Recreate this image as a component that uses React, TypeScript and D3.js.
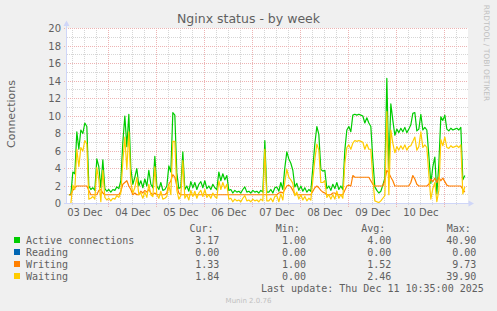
import React from 'react';
import * as d3 from 'd3';

const W = 497;
const H = 311;

const title = 'Nginx status - by week';
const yAxisLabel = 'Connections';
const watermark = 'RRDTOOL / TOBI OETIKER';
const versionText = 'Munin 2.0.76';
const lastUpdate = 'Last update: Thu Dec 11 10:35:00 2025';

// time window of the graph (400 px, 30 min each)
const periodStart = Date.UTC(2025, 11, 3, 3, 20);
const periodEnd = Date.UTC(2025, 11, 11, 11, 20);
// hourly samples start here
const firstSample = Date.UTC(2025, 11, 3, 4, 0);
const sampleStepMs = 3600 * 1000;

const yTickValues = [0, 2, 4, 6, 8, 10, 12, 14, 16, 18, 20];
const yMinorValues = [1, 3, 5, 7, 9, 11, 13, 15, 17, 19];

const seriesNames = ['Active connections', 'Reading', 'Writing', 'Waiting'];
const seriesColors = ['#00CC00', '#0066B3', '#FF8000', '#FFCC00'];
const curValues = ['3.17', '0.00', '1.33', '1.84'];
const minValues = ['1.00', '0.00', '1.00', '0.00'];
const avgValues = ['4.00', '0.00', '1.52', '2.46'];
const maxValues = ['40.90', '0.00', '9.73', '39.90'];

const activeValues = [
  1.0, 1.0, 3.6, 3.4, 8.2, 6.2, 8.4, 8.0, 9.2, 8.8,
  2.0, 1.6, 1.8, 1.5, 5.1, 4.2, 1.8, 5.0, 1.7, 1.4,
  1.6, 1.3, 1.6, 1.5, 1.9, 1.7, 2.6, 7.0, 10.0, 6.5,
  10.2, 4.0, 2.2, 3.0, 4.0, 2.0, 2.6, 1.8, 2.8, 2.0,
  3.8, 2.2, 1.8, 5.4, 2.0, 1.6, 2.4, 1.5, 1.6, 2.0,
  4.3, 3.6, 10.4, 10.1, 3.5, 1.7, 1.9, 5.9, 1.6, 2.0,
  1.4, 2.5, 1.8, 2.4, 1.6, 2.2, 2.5, 1.8, 2.6, 1.7,
  2.0, 1.6, 2.2, 1.8, 1.6, 3.6, 2.6, 3.4, 2.7, 3.2,
  1.5, 1.6, 1.2, 1.5, 1.3, 1.4, 1.2, 1.6, 1.9, 1.3,
  1.4, 1.2, 1.5, 1.3, 1.4, 1.2, 1.5, 1.3, 7.2, 1.3,
  1.3, 1.6, 1.2, 1.8, 1.9, 1.4, 2.4, 1.6, 4.1, 5.9,
  5.1, 4.6, 3.8, 1.9, 2.3, 1.5, 2.0, 1.4, 1.8, 1.3,
  1.6, 1.4, 4.1, 6.8, 8.8, 7.9, 3.9, 3.7, 3.8, 1.7,
  2.0, 1.5, 2.2, 1.7, 2.4, 1.6, 2.0, 1.6, 6.1, 8.4,
  8.8, 8.2, 10.1, 10.2, 10.1, 10.2, 10.1, 10.0, 9.2, 9.8,
  9.2, 8.8, 5.0, 1.9, 1.5, 1.2, 1.4, 2.1, 2.9, 14.3,
  4.0, 11.4, 9.5, 7.8, 8.5, 8.1, 8.6, 8.2, 8.7, 8.1,
  8.5, 9.0, 10.3, 10.4, 8.3, 8.5, 10.2, 8.4, 8.7, 8.4,
  5.5, 2.3, 4.2, 5.3, 1.1, 4.5, 9.9, 9.5, 10.1, 8.5,
  8.3, 8.6, 8.4, 8.5, 8.6, 8.4, 8.7, 2.7, 3.2,
];

// Reading stays at 0.00 during the whole week (min = avg = max = 0)
const readingValues: number[] = new Array(activeValues.length).fill(0);

const writingValues = [
  1.0, 1.0, 1.5, 1.8, 2.0, 2.0, 2.0, 2.0, 2.0, 2.0,
  1.5, 1.0, 1.0, 1.0, 1.0, 1.5, 1.6, 1.2, 1.0, 1.0,
  1.0, 1.0, 1.0, 1.0, 1.0, 1.0, 1.4, 2.2, 2.4, 2.6,
  2.0, 1.6, 1.0, 1.2, 1.0, 1.0, 1.4, 1.2, 1.5, 1.3,
  1.6, 1.2, 1.0, 1.2, 1.0, 1.0, 1.0, 1.0, 1.0, 1.2,
  2.2, 2.6, 3.3, 3.0, 2.0, 1.2, 1.0, 1.0, 1.0, 1.0,
  1.0, 1.0, 1.0, 1.0, 1.0, 1.0, 1.0, 1.0, 1.0, 1.0,
  1.0, 1.0, 1.0, 1.0, 1.0, 1.0, 1.0, 1.0, 1.0, 1.0,
  1.0, 1.0, 1.0, 1.0, 1.0, 1.0, 1.0, 1.0, 1.0, 1.0,
  1.0, 1.0, 1.0, 1.0, 1.0, 1.0, 1.0, 1.0, 1.0, 1.0,
  1.0, 1.0, 1.0, 1.0, 1.0, 1.2, 1.3, 1.2, 1.6, 2.0,
  2.1, 1.9, 1.5, 1.0, 1.0, 1.0, 1.0, 1.0, 1.0, 1.0,
  1.0, 1.0, 1.4, 1.8, 2.0, 1.8, 1.5, 1.3, 1.2, 1.0,
  1.0, 1.0, 1.2, 1.2, 1.0, 1.0, 1.0, 1.0, 1.5, 2.0,
  2.1, 2.0, 3.2, 3.0, 3.0, 3.0, 3.0, 3.0, 3.0, 3.0,
  3.0, 2.6, 2.2, 2.0, 2.0, 2.0, 2.0, 2.0, 2.6, 3.8,
  3.5, 3.0, 2.6, 2.0, 2.0, 2.0, 2.0, 2.0, 2.0, 2.0,
  2.0, 2.4, 3.2, 2.8, 2.2, 2.0, 2.0, 2.0, 2.0, 2.0,
  2.2, 2.8, 2.5, 2.9, 2.4, 3.0, 2.6, 2.9, 2.5, 2.1,
  2.0, 2.0, 2.0, 2.0, 2.0, 2.0, 2.0, 1.6, 1.3,
];

const waitingValues = [
  0.0, 0.0, 2.1, 1.6, 6.2, 4.2, 6.4, 6.0, 7.2, 6.8,
  0.5, 0.6, 0.8, 0.5, 4.1, 2.7, 0.2, 3.8, 0.7, 0.4,
  0.6, 0.3, 0.6, 0.5, 0.9, 0.7, 1.2, 4.8, 7.6, 3.9,
  8.2, 2.4, 1.2, 1.8, 3.0, 1.0, 1.2, 0.6, 1.3, 0.7,
  2.2, 1.0, 0.8, 4.2, 1.0, 0.6, 1.4, 0.5, 0.6, 0.8,
  2.1, 1.0, 7.1, 7.1, 1.5, 0.5, 0.9, 4.9, 0.6, 1.0,
  0.4, 1.5, 0.8, 1.4, 0.6, 1.2, 1.5, 0.8, 1.6, 0.7,
  1.0, 0.6, 1.2, 0.8, 0.6, 2.6, 1.6, 2.4, 1.7, 2.2,
  0.5, 0.6, 0.2, 0.5, 0.3, 0.4, 0.2, 0.6, 0.9, 0.3,
  0.4, 0.2, 0.5, 0.3, 0.4, 0.2, 0.5, 0.3, 6.2, 0.3,
  0.3, 0.6, 0.2, 0.8, 0.9, 0.2, 1.1, 0.4, 2.5, 3.9,
  3.0, 2.7, 2.3, 0.9, 1.3, 0.5, 1.0, 0.4, 0.8, 0.3,
  0.6, 0.4, 2.7, 5.0, 6.8, 6.1, 2.4, 2.4, 2.6, 0.7,
  1.0, 0.5, 1.0, 0.5, 1.4, 0.6, 1.0, 0.6, 4.6, 6.4,
  6.7, 6.2, 6.9, 7.2, 7.1, 7.2, 7.1, 7.0, 6.2, 6.8,
  6.2, 6.2, 2.8, 0.3, 0.2, 0.1, 0.3, 0.6, 0.9, 10.5,
  1.0, 8.4, 6.9, 5.8, 6.5, 6.1, 6.6, 6.2, 6.7, 6.1,
  6.5, 6.6, 7.1, 7.6, 6.1, 6.5, 8.2, 6.4, 6.7, 6.4,
  3.3, 0.5, 1.7, 2.4, 0.2, 1.5, 7.3, 6.6, 7.6, 6.4,
  6.3, 6.6, 6.4, 6.5, 6.6, 6.4, 6.7, 1.1, 1.9,
];

const seriesValues = [activeValues, readingValues, writingValues, waitingValues];

const FONT = 'DejaVu Sans, sans-serif';
const MONO = 'DejaVu Sans Mono, monospace';
const TEXT = '#606060';
const AXIS = '#CFD6F8';
const MINOR_GRID = '#D6D6D6';
const MAJOR_GRID = '#EDB3B3';

export default function App() {
  const x = d3
    .scaleUtc()
    .domain([new Date(periodStart), new Date(periodEnd)])
    .range([67.5, 467.5]);
  const y = d3.scaleLinear().domain([0, 20]).range([203.5, 28.5]);
  const crisp = (v: number) => Math.floor(v) + 0.5;

  const times = activeValues.map((_, i) => new Date(firstSample + i * sampleStepMs));
  const line = d3
    .line<number>()
    .x((_, i) => x(times[i]))
    .y((d) => y(d));

  const start = new Date(periodStart);
  const end = new Date(periodEnd);
  const majorDays = d3.utcDay.range(d3.utcDay.ceil(start), end);
  const minorHours = (d3.utcHour.every(6) as d3.TimeInterval)
    .range(start, end)
    .filter((t) => t.getUTCHours() !== 0);
  const labelDays = d3.utcDay
    .range(d3.utcDay.floor(start), end)
    .map((d) => new Date(d.getTime() + 12 * 3600 * 1000))
    .filter((d) => d >= start && d <= end);
  const fmt = d3.utcFormat('%d %b');

  const legendRowY = [244, 256, 268, 280];

  return (
    <svg
      width={W}
      height={H}
      style={{ position: 'absolute', left: 0, top: 0, display: 'block' }}
    >
      <rect x={0} y={0} width={W} height={H} fill="#F0F0F0" />
      <rect x={67} y={28} width={401} height={176} fill="#FFFFFF" />

      {/* minor grid */}
      <g stroke={MINOR_GRID} strokeWidth={1} strokeDasharray="1,1" shapeRendering="crispEdges">
        {yMinorValues.map((v) => (
          <line key={'ym' + v} x1={67} x2={468} y1={crisp(y(v))} y2={crisp(y(v))} />
        ))}
        {minorHours.map((t) => (
          <line key={'xm' + t.getTime()} x1={crisp(x(t))} x2={crisp(x(t))} y1={28} y2={206} />
        ))}
      </g>
      {/* major grid */}
      <g stroke={MAJOR_GRID} strokeWidth={1} strokeDasharray="1,1" shapeRendering="crispEdges">
        {yTickValues
          .filter((v) => v > 0)
          .map((v) => (
            <line key={'yM' + v} x1={64} x2={468} y1={crisp(y(v))} y2={crisp(y(v))} />
          ))}
        {majorDays.map((t) => (
          <line key={'xM' + t.getTime()} x1={crisp(x(t))} x2={crisp(x(t))} y1={28} y2={207} />
        ))}
      </g>

      {/* data */}
      <defs>
        <clipPath id="plotClip">
          <rect x={67} y={28} width={401} height={176} />
        </clipPath>
      </defs>
      <g clipPath="url(#plotClip)" fill="none" strokeWidth={1.2} strokeLinejoin="round">
        {seriesValues.map((vals, si) => (
          <path key={si} d={line(vals) || ''} stroke={seriesColors[si]} />
        ))}
      </g>

      {/* axes */}
      <g stroke={AXIS} strokeWidth={1} shapeRendering="crispEdges">
        <line x1={66.5} x2={66.5} y1={204} y2={25} />
        <line x1={64} x2={469} y1={203.5} y2={203.5} />
      </g>
      <path d="M63.5,26 L69.5,26 L66.5,20.5 Z" fill={AXIS} />
      <path d="M468.5,200.5 L468.5,206.5 L474,203.5 Z" fill={AXIS} />

      {/* y tick labels */}
      {yTickValues.map((v) => (
        <text
          key={'yl' + v}
          x={61}
          y={crisp(y(v)) + 3.5}
          textAnchor="end"
          fontFamily={FONT}
          fontSize={10}
          fill={TEXT}
        >
          {v}
        </text>
      ))}
      {/* x tick labels */}
      {labelDays.map((d) => (
        <text
          key={'xl' + d.getTime()}
          x={x(d)}
          y={216}
          textAnchor="middle"
          fontFamily={FONT}
          fontSize={10}
          fill={TEXT}
        >
          {fmt(d)}
        </text>
      ))}

      {/* title */}
      <text x={248.5} y={23} textAnchor="middle" fontFamily={FONT} fontSize={12.5} fill={TEXT}>
        {title}
      </text>
      {/* y axis label */}
      <text
        transform="translate(14.5,114) rotate(-90)"
        textAnchor="middle"
        fontFamily={FONT}
        fontSize={11}
        fill={TEXT}
      >
        {yAxisLabel}
      </text>
      {/* watermark */}
      <text
        transform="translate(484,53) rotate(90)"
        textAnchor="middle"
        fontFamily={FONT}
        fontSize={7.5}
        fill="#C0C0C0"
      >
        {watermark}
      </text>

      {/* legend */}
      <g fontFamily={MONO} fontSize={10} fill={TEXT}>
        <text x={189.4} y={232}>Cur:</text>
        <text x={275.7} y={232}>Min:</text>
        <text x={361.2} y={232}>Avg:</text>
        <text x={446.7} y={232}>Max:</text>
        {seriesNames.map((name, i) => (
          <g key={name}>
            <rect x={14} y={legendRowY[i] - 7} width={6} height={6} fill={seriesColors[i]} />
            <text x={26} y={legendRowY[i]}>{name}</text>
            <text x={219.4} y={legendRowY[i]} textAnchor="end">{curValues[i]}</text>
            <text x={306.1} y={legendRowY[i]} textAnchor="end">{minValues[i]}</text>
            <text x={391.4} y={legendRowY[i]} textAnchor="end">{avgValues[i]}</text>
            <text x={476.4} y={legendRowY[i]} textAnchor="end">{maxValues[i]}</text>
          </g>
        ))}
        <text x={261} y={292}>{lastUpdate}</text>
      </g>
      <text x={248.5} y={303} textAnchor="middle" fontFamily={FONT} fontSize={7} fill="#C0C0C0">
        {versionText}
      </text>
    </svg>
  );
}
